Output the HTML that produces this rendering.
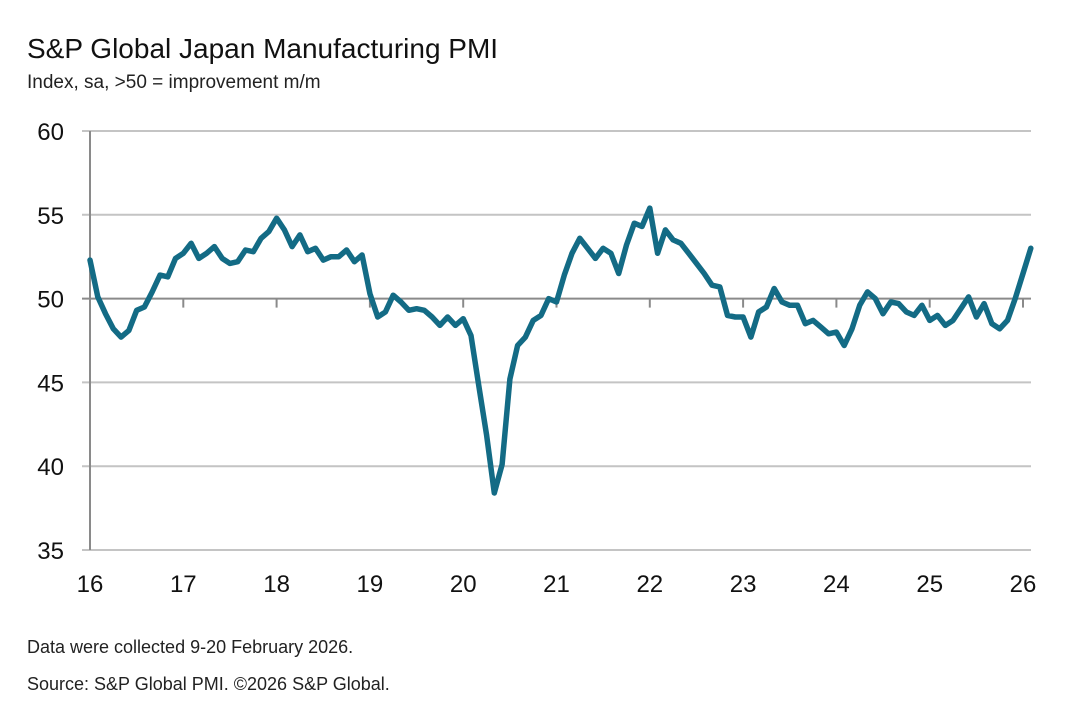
<!DOCTYPE html>
<html><head><meta charset="utf-8"><style>
body{margin:0;background:#fff;width:1080px;height:707px;overflow:hidden;font-family:"Liberation Sans",sans-serif;}
</style></head><body>
<svg width="1080" height="707">
<text x="27" y="58" font-size="28" fill="#111">S&amp;P Global Japan Manufacturing PMI</text>
<text x="27" y="88" font-size="19" fill="#222">Index, sa, &gt;50 = improvement m/m</text>
<g id="grid"></g><g id="axes"></g><path id="line" fill="none" stroke="#136b85" stroke-width="5.5" stroke-linejoin="round" stroke-linecap="round"/>
<text x="27" y="653" font-size="18" fill="#222">Data were collected 9-20 February 2026.</text>
<text x="27" y="690" font-size="18" fill="#222">Source: S&amp;P Global PMI. ©2026 S&amp;P Global.</text>
</svg>
<script>
const yTicks=[35,40,45,50,55,60];
const xLabels=["16","17","18","19","20","21","22","23","24","25","26"];
const pmi=[52.3,50.1,49.1,48.2,47.7,48.1,49.3,49.5,50.4,51.4,51.3,52.4,
52.7,53.3,52.4,52.7,53.1,52.4,52.1,52.2,52.9,52.8,53.6,54.0,
54.8,54.1,53.1,53.8,52.8,53.0,52.3,52.5,52.5,52.9,52.2,52.6,
50.3,48.9,49.2,50.2,49.8,49.3,49.4,49.3,48.9,48.4,48.9,48.4,
48.8,47.8,44.8,41.9,38.4,40.1,45.2,47.2,47.7,48.7,49.0,50.0,
49.8,51.4,52.7,53.6,53.0,52.4,53.0,52.7,51.5,53.2,54.5,54.3,
55.4,52.7,54.1,53.5,53.3,52.7,52.1,51.5,50.8,50.7,49.0,48.9,
48.9,47.7,49.2,49.5,50.6,49.8,49.6,49.6,48.5,48.7,48.3,47.9,
48.0,47.2,48.2,49.6,50.4,50.0,49.1,49.8,49.7,49.2,49.0,49.6,
48.7,49.0,48.4,48.7,49.4,50.1,48.9,49.7,48.5,48.2,48.7,50.0,
51.5,53.0];
const x0=90,x1=1023,yTop=131,yBot=550,ns="http://www.w3.org/2000/svg";
const X=i=>x0+(x1-x0)*i/120;
const Y=v=>yBot-(v-35)/(60-35)*(yBot-yTop);
function mk(t,a,p){const e=document.createElementNS(ns,t);for(const k in a)e.setAttribute(k,a[k]);p.appendChild(e);return e;}
const g=document.getElementById('grid'),ax=document.getElementById('axes');
yTicks.forEach(v=>{
 const ln=mk('line',{x1:82,x2:1031,y1:Y(v),y2:Y(v),stroke:v==50?'#8a8a8a':'#c4c4c4','stroke-width':2},g);
 
 
 const t=mk('text',{x:64,y:Y(v)+9,'font-size':24,'text-anchor':'end',fill:'#111'},ax);t.textContent=v;
 
 
});
mk('line',{x1:x0,x2:x0,y1:yTop,y2:yBot,stroke:'#8a8a8a','stroke-width':2},ax);
xLabels.forEach((s,k)=>{
 const xx=X(k*12);
 if(k>0){const tk=mk('line',{x1:xx,x2:xx,y1:Y(50),y2:Y(50)+9,stroke:'#8a8a8a','stroke-width':2},ax);
 
 }
 const t=mk('text',{x:xx,y:592,'font-size':24,'text-anchor':'middle',fill:'#111'},ax);t.textContent=s;
 
 
});
document.getElementById('line').setAttribute('d',pmi.map((v,i)=>(i?'L':'M')+X(i).toFixed(1)+','+Y(v).toFixed(1)).join(''));
</script>
</body></html>
